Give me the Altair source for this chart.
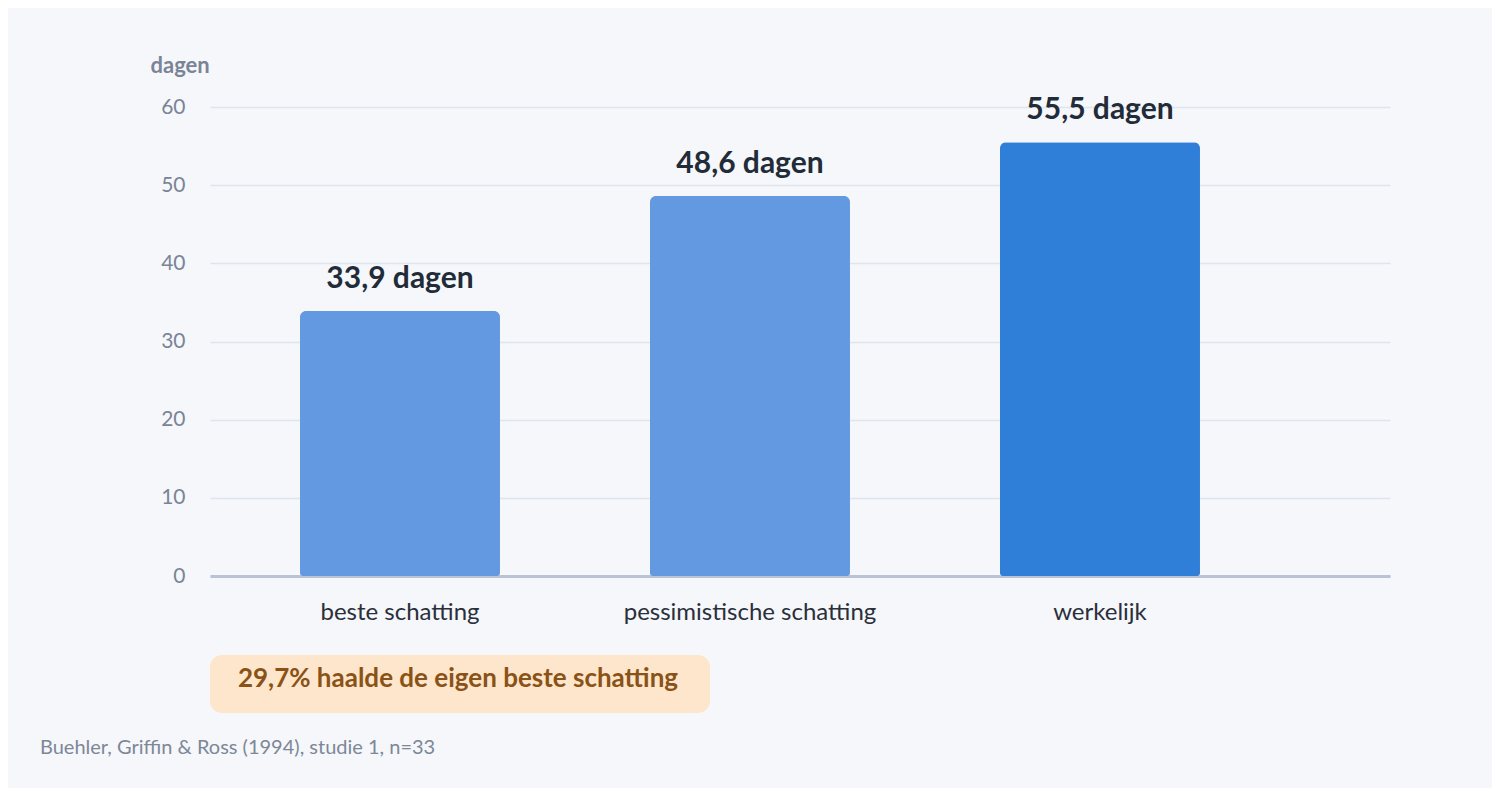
import altair as alt
import pandas as pd

categories = ["beste schatting", "pessimistische schatting", "werkelijk"]
values = [33.9, 48.6, 55.5]
value_labels = ["33,9 dagen", "48,6 dagen", "55,5 dagen"]
bar_colors = ["#6399e0", "#6399e0", "#2f7ed7"]
y_ticks = [0, 10, 20, 30, 40, 50, 60]
y_title = "dagen"
note_text = "29,7% haalde de eigen beste schatting"
source_text = "Buehler, Griffin & Ross (1994), studie 1, n=33"

df = pd.DataFrame({"cat": categories, "val": values, "lab": value_labels, "col": bar_colors})

FONT = "Lato"

x_enc = alt.X("cat:N", sort=categories,
              scale=alt.Scale(paddingInner=0.4286, paddingOuter=0.4, align=0.3214),
              axis=alt.Axis(title=None, labelAngle=0, labelFont=FONT, labelFontSize=24,
                            labelColor="#2a2f3a", labelPadding=24, labelLimit=0, ticks=False,
                            domainColor="#b8c4d6", domainWidth=3, grid=False))
y_enc = alt.Y("val:Q", scale=alt.Scale(domain=[0, 60], nice=False),
              axis=alt.Axis(values=y_ticks, title=y_title, titleAngle=0, titleX=-60, titleY=-30,
                            titleAlign="left", titleFont=FONT, titleFontSize=22, titleFontWeight="bold",
                            titleColor="#7a8496", labelFont=FONT, labelFontSize=21, labelColor="#7a8496",
                            labelPadding=25, ticks=False, domain=False, gridColor="#dfe5ee",
                            gridWidth=1.5))

base = alt.Chart(df)
bars = base.mark_bar(cornerRadiusTopLeft=6, cornerRadiusTopRight=6,
                     cornerRadiusBottomLeft=3, cornerRadiusBottomRight=3).encode(
    x=x_enc, y=y_enc, color=alt.Color("col:N", scale=None))
labels = base.mark_text(font=FONT, fontSize=30, fontWeight="bold", color="#222b38",
                        baseline="alphabetic", dy=-23).encode(
    x=alt.X("cat:N", sort=categories), y="val:Q", text="lab:N")

note_df = pd.DataFrame({"t": [note_text]})
note_box = alt.Chart(note_df).mark_rect(color="#fde6cc", cornerRadius=12, clip=False).encode(
    x=alt.value(0), x2=alt.value(500), y=alt.value(548), y2=alt.value(606))
note = alt.Chart(note_df).mark_text(font=FONT, fontSize=26, fontWeight="bold", color="#8a5216",
                                    align="center", baseline="middle", clip=False).encode(
    x=alt.value(248), y=alt.value(572), text="t:N")

src_df = pd.DataFrame({"t": [source_text]})
src = alt.Chart(src_df).mark_text(font=FONT, fontSize=20, color="#7d8797", align="left",
                                  baseline="middle", clip=False).encode(
    x=alt.value(-170), y=alt.value(641), text="t:N")

chart = alt.layer(bars, labels, note_box, note, src).properties(
    width=1180, height=469,
    autosize=alt.AutoSizeParams(type="none"),
    padding={"left": 202, "top": 99, "right": 102, "bottom": 212},
    background="#f5f7fb",
).configure_view(stroke=None)

chart.save("out.html", embed_options={"renderer": "svg", "actions": False})
